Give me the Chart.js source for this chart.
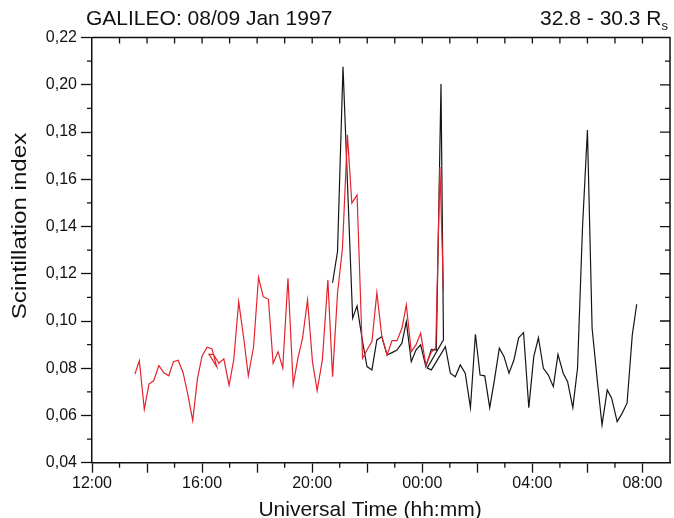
<!DOCTYPE html>
<html>
<head>
<meta charset="utf-8">
<script src="https://cdn.jsdelivr.net/npm/chart.js@4/dist/chart.umd.min.js"></script>
<style>
	html, body { margin: 0; padding: 0; background: #fff; }
	#wrap { width: 674px; height: 518px; }
</style>
</head>
<body>
<div id="wrap"><canvas id="chart" width="674" height="518"></canvas></div>
<script>
// time is hours after 12:00 UT on 08 Jan (so 12 = 00:00 on 09 Jan)
const redTime = [1.56, 1.72, 1.90, 2.07, 2.24, 2.43, 2.61, 2.79, 2.96, 3.13, 3.31, 3.49, 3.66, 3.83, 4.00,
	4.18, 4.36, 4.53, 4.25, 4.41, 4.61, 4.79, 4.98, 5.15, 5.33, 5.52, 5.68, 5.87, 6.05, 6.22, 6.41,
	6.58, 6.76, 6.93, 7.12, 7.31, 7.48, 7.65, 7.83, 8.01, 8.18, 8.37, 8.57, 8.74, 8.92, 9.10, 9.28,
	9.44, 9.63, 9.83, 9.99, 10.17, 10.35, 10.53, 10.72, 10.90, 11.08, 11.26, 11.42, 11.60, 11.77,
	11.94, 12.13, 12.33, 12.49, 12.64, 12.77];
const redIndex = [0.0776, 0.0831, 0.0626, 0.0733, 0.0747, 0.0811, 0.0781, 0.0768, 0.0828, 0.0834, 0.0781, 0.0684, 0.0578, 0.0755, 0.0852,
	0.0889, 0.0882, 0.0807, 0.0859, 0.0859, 0.0821, 0.0840, 0.0728, 0.0835, 0.1082, 0.0920, 0.0768, 0.0891, 0.1185, 0.1103, 0.1092,
	0.0821, 0.0870, 0.0801, 0.1181, 0.0730, 0.0842, 0.0927, 0.1089, 0.0828, 0.0705, 0.0835, 0.1174, 0.0764, 0.1117, 0.1308, 0.1788,
	0.1499, 0.1534, 0.0842, 0.0877, 0.0913, 0.1120, 0.0934, 0.0856, 0.0917, 0.0917, 0.0969, 0.1068, 0.0870, 0.0899,
	0.0948, 0.0814, 0.0869, 0.0886, 0.1652, 0.1124];

const blackTime = [8.74, 8.92, 9.12, 9.47, 9.63, 9.81, 9.99, 10.17, 10.35, 10.53, 10.72, 10.90, 11.08, 11.26, 11.42,
	11.60, 11.77, 11.94, 12.13, 12.33, 12.51, 12.68, 12.77, 12.18, 12.33, 12.84, 13.02, 13.20, 13.38, 13.56,
	13.75, 13.93, 14.10, 14.27, 14.45, 14.62, 14.80, 14.97, 15.15, 15.33, 15.50, 15.68, 15.87, 16.05, 16.22,
	16.40, 16.58, 16.76, 16.93, 17.12, 17.28, 17.47, 17.64, 17.82, 18.00, 18.17, 18.35, 18.53, 18.72, 18.88,
	19.08, 19.26, 19.44, 19.63, 19.79];
const blackIndex = [0.1162, 0.1294, 0.2077, 0.1012, 0.1064, 0.0927, 0.0807, 0.0793, 0.0920, 0.0934, 0.0856, 0.0866, 0.0877, 0.0906, 0.0997,
	0.0828, 0.0877, 0.0899, 0.0807, 0.0880, 0.0877, 0.2004, 0.0920, 0.0801, 0.0793, 0.0891, 0.0779, 0.0764, 0.0814, 0.0779,
	0.0633, 0.0944, 0.0771, 0.0768, 0.0633, 0.0750, 0.0885, 0.0849, 0.0779, 0.0835, 0.0929, 0.0951, 0.0633, 0.0849, 0.0929,
	0.0800, 0.0771, 0.0722, 0.0859, 0.0779, 0.0743, 0.0633, 0.0800, 0.1393, 0.1809, 0.0969, 0.0757, 0.0560, 0.0708, 0.0673,
	0.0574, 0.0609, 0.0652, 0.0941, 0.1071];

const timeRange = [0, 21];
const indexRange = [0.04, 0.22];

const titleText = "GALILEO: 08/09 Jan 1997";
const rangeText = "32.8 - 30.3 R";
const rangeSub = "s";
const xTitle = "Universal Time (hh:mm)";
const yTitle = "Scintillation index";

const FONT = "'Liberation Sans', Arial, Helvetica, sans-serif";

function toPoints(xs, ys)
{
	return xs.map((x, i) => ({ x: x, y: ys[i] }));
}

function hourLabel(v)
{
	const h = (12 + v) % 24;
	return (h < 10 ? "0" : "") + h + ":00";
}

// minor ticks, mirrored ticks on top/right, frame and texts
const framePlugin =
{
	id: "frame",
	afterDraw(chart)
	{
		const ctx = chart.ctx;
		const a = chart.chartArea;
		const xs = chart.scales.x;
		const ys = chart.scales.y;
		ctx.save();
		ctx.strokeStyle = "#111";
		ctx.lineWidth = 1.3;
		ctx.beginPath();
		for (let h = timeRange[0]; h <= timeRange[1]; h++)
		{
			const px = xs.getPixelForValue(h);
			if (h % 2 == 1 && h < timeRange[1])
			{
				ctx.moveTo(px, a.bottom);
				ctx.lineTo(px, a.bottom + 5);
			}
			if (h > timeRange[0] && h < timeRange[1])
			{
				ctx.moveTo(px, a.top);
				ctx.lineTo(px, a.top + 6);
			}
		}
		for (let k = 1; k < 18; k++)
		{
			const v = indexRange[0] + k * 0.01;
			const py = ys.getPixelForValue(v);
			const major = k % 2 == 0;
			if (!major)
			{
				ctx.moveTo(a.left, py);
				ctx.lineTo(a.left - 5, py);
			}
			ctx.moveTo(a.right, py);
			ctx.lineTo(a.right - (major ? 10 : 5), py);
		}
		ctx.stroke();

		ctx.lineWidth = 1.5;
		ctx.beginPath();
		ctx.moveTo(a.left, a.top);
		ctx.lineTo(a.right, a.top);
		ctx.lineTo(a.right, a.bottom);
		ctx.stroke();

		ctx.fillStyle = "#111";
		ctx.font = "21px " + FONT;
		ctx.textBaseline = "alphabetic";
		ctx.textAlign = "left";
		ctx.fillText(titleText, 86, 25);

		ctx.font = "13px " + FONT;
		const subW = ctx.measureText(rangeSub).width;
		ctx.fillText(rangeSub, 668 - subW, 30);
		ctx.font = "21px " + FONT;
		ctx.textAlign = "right";
		ctx.fillText(rangeText, 668 - subW, 25);

		ctx.textAlign = "center";
		ctx.fillText(xTitle, (a.left + a.right) / 2 - 11, 516);

		ctx.translate(26, 226);
		ctx.rotate(-Math.PI / 2);
		ctx.scale(1.15, 1);
		ctx.fillText(yTitle, 0, 0);
		ctx.restore();
	}
};

new Chart(document.getElementById("chart").getContext("2d"),
{
	type: "scatter",
	plugins: [framePlugin],
	data:
	{
		datasets:
		[
			{
				label: "red",
				data: toPoints(redTime, redIndex),
				showLine: true,
				borderColor: "#e5222c",
				borderWidth: 1.2,
				pointRadius: 0,
				tension: 0
			},
			{
				label: "black",
				data: toPoints(blackTime, blackIndex),
				showLine: true,
				borderColor: "#151515",
				borderWidth: 1.2,
				pointRadius: 0,
				tension: 0
			}
		]
	},
	options:
	{
		responsive: false,
		animation: false,
		layout: { padding: { left: 0, right: 4, top: 37.6, bottom: 0 } },
		plugins:
		{
			legend: { display: false },
			tooltip: { enabled: false }
		},
		scales:
		{
			x:
			{
				type: "linear",
				min: timeRange[0],
				max: timeRange[1],
				afterFit: (scale) => { scale.height = 55.3; },
				border: { display: true, color: "#111", width: 1.5 },
				grid: { display: true, drawOnChartArea: false, drawTicks: true, tickLength: 10, tickColor: "#111", tickWidth: 1.3 },
				ticks:
				{
					stepSize: 2,
					includeBounds: false,
					autoSkip: false,
					maxRotation: 0,
					padding: 1,
					color: "#111",
					font: { family: FONT, size: 16 },
					callback: (v) => (v % 4 == 0 ? hourLabel(v) : "")
				}
			},
			y:
			{
				min: indexRange[0],
				max: indexRange[1],
				afterFit: (scale) => { scale.width = 92; },
				border: { display: true, color: "#111", width: 1.5 },
				grid: { display: true, drawOnChartArea: false, drawTicks: true, tickLength: 11, tickColor: "#111", tickWidth: 1.3 },
				ticks:
				{
					stepSize: 0.02,
					autoSkip: false,
					padding: 4,
					color: "#111",
					font: { family: FONT, size: 16 },
					callback: (v) => v.toFixed(2).replace(".", ",")
				}
			}
		}
	}
});
</script>
</body>
</html>
